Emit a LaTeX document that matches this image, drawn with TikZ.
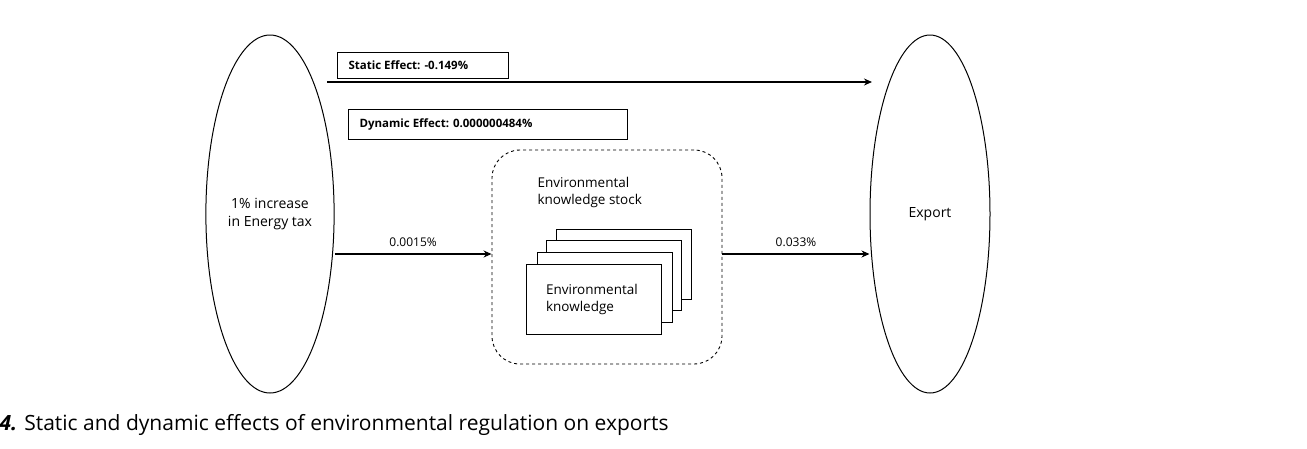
\documentclass[tikz,border=0pt]{standalone}
\usepackage{fontspec}
\setmainfont{Open Sans}
\newfontfamily\capfont{Open Sans}
\usetikzlibrary{arrows.meta,shapes.geometric}
\begin{document}
\begin{tikzpicture}[x=1pt,y=-1pt,
  ell/.style={draw,ellipse,line width=1pt,minimum width=120,minimum height=358,align=center,font=\fontsize{14}{18}\selectfont},
  lbl/.style={draw,line width=1pt,anchor=north west,inner sep=0},
  bt/.style={font=\bfseries\fontsize{11.5}{14}\selectfont,anchor=west},
  pg/.style={draw,fill=white,line width=0.8pt,anchor=north west,minimum width=135,minimum height=70,inner sep=0},
  arr/.style={line width=1.6pt,-{Stealth[length=8,width=7]}},
  txt/.style={font=\fontsize{13.5}{17}\selectfont}]
\useasboundingbox (0,0) rectangle (1307,448);
\node[ell] (tax) at (270,214) {1\% increase\\in Energy tax};
\node[ell] (exp) at (930,214) {Export};
\node[lbl,minimum width=171,minimum height=26] (sb) at (337,52) {};
\node[bt] (st) at (345,65) {Static Effect: -0.149\%};
\node[lbl,minimum width=279,minimum height=30] (db) at (348,109) {};
\node[bt] (dt) at (356,124) {Dynamic Effect: 0.000000484\%};
\node[draw,dashed,line width=0.9pt,rounded corners=28,minimum width=230,minimum height=214] (kb) at (607,257) {};
\node[txt,align=left,anchor=north west] (ks) at (534,174) {Environmental\\knowledge stock};
\node[pg] (p1) at (556,229) {};
\node[pg] (p2) at (546,240) {};
\node[pg] (p3) at (537,252) {};
\node[pg,align=left,txt] (p4) at (526,264) {\hspace*{-4pt}Environmental\\\hspace*{-4pt}knowledge};
\coordinate (s1) at (327,82);
\coordinate (s2) at (872,82);
\draw[arr] (s1) -- (s2);
\draw[arr] (tax.east |- 0,254) -- (kb.west |- 0,254) node[midway,above=3pt,font=\fontsize{12}{14}\selectfont] {0.0015\%};
\draw[arr] (kb.east |- 0,254) -- (exp.west |- 0,254) node[midway,above=3pt,font=\fontsize{12}{14}\selectfont] {0.033\%};
\node[anchor=west,font=\capfont\fontsize{21}{25}\selectfont] (cap) at (-4,425) {\textbf{\textit{4.}} Static and dynamic effects of environmental regulation on exports};
\end{tikzpicture}
\end{document}
